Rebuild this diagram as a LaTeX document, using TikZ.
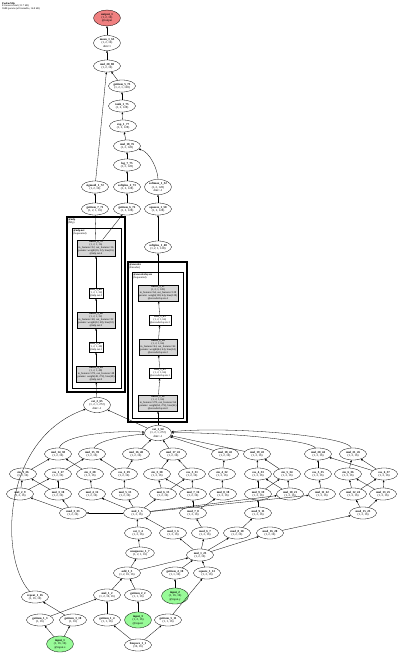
\documentclass[tikz,border=0pt]{standalone}
\usepackage{fontspec}
\setmainfont{Liberation Serif}
\usetikzlibrary{shapes.geometric,arrows.meta}
\definecolor{ingreen}{HTML}{98FB98}
\definecolor{outred}{HTML}{F08080}
\definecolor{prmgray}{HTML}{D6D6D6}

\begin{document}
\begin{tikzpicture}[
  x=1pt, y=-1pt,
  font=\fontsize{3}{3.3}\selectfont,
  >={Triangle[length=2pt,width=1.7pt]},
  op/.style    ={ellipse, draw, line width=0.3pt, fill=white, align=center,
                 inner xsep=0.6pt, inner ysep=1pt, minimum width=27pt, minimum height=12pt},
  opin/.style  ={op, fill=ingreen},
  opout/.style ={op, fill=outred},
  modbox/.style={rectangle, draw, line width=0.3pt, fill=white, align=center,
                 inner sep=1pt, font=\fontsize{2.7}{3}\selectfont},
  prmbox/.style={modbox, fill=prmgray},
  clus/.style  ={draw, line width=1.2pt},
  subclus/.style={draw, line width=0.7pt},
  clab/.style  ={anchor=north west, align=left, inner sep=0.6pt, font=\fontsize{2.7}{3}\selectfont},
  flow/.style  ={->, line width=0.3pt},
]
  \useasboundingbox (0,0) rectangle (400,656);

  % --- header ---
  \node[anchor=north west, align=left, inner sep=0pt, font=\fontsize{2.6}{2.9}\selectfont] (title) at (2,2)
       {\textbf{PosEncMlp}\\81 tensors total (31.7 kB)\\3688 params (all trainable, 14.8 kB)};

  % --- top chain ---
  \node[opout] (out1)  at (107,18)  {\textbf{output\_1}\\(1, 2, 16)\\@output};
  \node[op]    (mean)  at (107,43)  {\textbf{mean\_1\_63}\\(1, 2, 16)\\dim=1};
  \node[op]    (mul20) at (107,66)  {\textbf{mul\_20\_80}\\(1, 2, 16)};
  \node[op]    (gi5)   at (122,86)  {\textbf{getitem\_5\_73}\\(1, 2, 1, 128)};
  \node[op]    (tanh)  at (122,106) {\textbf{tanh\_1\_75}\\(1, 2, 128)};
  \node[op]    (expo)  at (123,126) {\textbf{exp\_1\_77}\\(1, 2, 128)};
  \node[op]    (mul18) at (127,146) {\textbf{mul\_18\_76}\\(1, 2, 128)};
  \node[op]    (logn)  at (127,165) {\textbf{log\_7\_75}\\(1, 2, 128)};
  \node[op]    (sigm)  at (95,187)  {\textbf{sigmoid\_1\_72}\\(1, 2, 16)};
  \node[op]    (spl2)  at (127,187) {\textbf{softplus\_2\_73}\\(1, 2, 128)};
  \node[op]    (smax)  at (158,187) {\textbf{softmax\_1\_52}\\(1, 2, 128)\\dim=-1};
  \node[op]    (gi7)   at (95,209)  {\textbf{getitem\_7\_71}\\(1, 2, 1, 16)};
  \node[op]    (gi6)   at (127,209) {\textbf{getitem\_6\_72}\\(1, 2, 128)};
  \node[op]    (sqz)   at (158,209) {\textbf{squeeze\_1\_50}\\(1, 2, 128)};
  \node[op]    (spl1)  at (158,247) {\textbf{softplus\_1\_48}\\(1, 2, 1, 128)};

  % --- left module ---
  \draw[clus]    (67,217) rectangle (125,392);
  \draw[subclus] (72,228) rectangle (121,388);
  \node[clab] (mlplab) at (67.5,217.5) {\textbf{@mlp}\\(Mlp)};
  \node[clab] (netlab) at (72.5,228.5) {\textbf{@mlp.net}\\(Sequential)};
  \node[prmbox] (lin6)  at (96,248) {\textbf{linear\_6\_70}\\(1, 2, 1, 16)\\in\_features=32, out\_features=16\\params: weight(16, 32), bias(16)\\@mlp.net.4};
  \node[modbox] (relu3) at (96,293) {\textbf{relu\_3\_68}\\(1, 2, 1, 32)\\@mlp.net.3};
  \node[prmbox] (lin5)  at (96,320) {\textbf{linear\_5\_66}\\(1, 2, 1, 32)\\in\_features=48, out\_features=32\\params: weight(32, 48), bias(32)\\@mlp.net.2};
  \node[modbox] (relu2) at (96,347) {\textbf{relu\_2\_67}\\(1, 2, 1, 48)\\@mlp.net.1};
  \node[prmbox] (lin4)  at (96,374) {\textbf{linear\_4\_64}\\(1, 2, 1, 48)\\in\_features=272, out\_features=48\\params: weight(48, 272), bias(48)\\@mlp.net.0};

  % --- right module ---
  \draw[clus]    (128,262) rectangle (187,422);
  \draw[subclus] (132,272) rectangle (183,418);
  \node[clab] (enclab) at (128.5,262.5) {\textbf{@encoder}\\(Encoder)};
  \node[clab] (laylab) at (132.5,272.5) {\textbf{@encoder.layers}\\(Sequential)};
  \node[prmbox] (rlin3) at (158,293) {\textbf{linear\_3\_47}\\(1, 2, 1, 128)\\in\_features=64, out\_features=128\\params: weight(128, 64), bias(128)\\@encoder.layers.4};
  \node[modbox] (rrelu2) at (160,320) {\textbf{relu\_1\_45}\\(1, 2, 1, 64)\\@encoder.layers.3};
  \node[prmbox] (rlin2) at (158,347) {\textbf{linear\_2\_44}\\(1, 2, 1, 64)\\in\_features=64, out\_features=64\\params: weight(64, 64), bias(64)\\@encoder.layers.2};
  \node[modbox] (rrelu1) at (160,373) {\textbf{relu\_1\_43}\\(1, 2, 1, 64)\\@encoder.layers.1};
  \node[prmbox] (rlin1) at (158,403) {\textbf{linear\_1\_42}\\(1, 2, 1, 64)\\in\_features=272, out\_features=64\\params: weight(64, 272), bias(64)\\@encoder.layers.0};

  % --- concat ---
  \node[op] (cat2) at (97,405)  {\textbf{cat\_2\_65}\\(1, 2, 1, 272)\\dim=-1};
  \node[op] (cat1) at (158,433) {\textbf{cat\_1\_54}\\(1, 2, 1, 272)\\dim=-1};

  % --- row 454 ---
  \node[op] (k0) at (58,454)  {\textbf{mul\_14\_38}\\(1, 2, 16)};
  \node[op] (k1) at (92,454)  {\textbf{mul\_15\_39}\\(1, 2, 16)};
  \node[op] (k2) at (136,454) {\textbf{mul\_16\_40}\\(1, 2, 16)};
  \node[op] (k3) at (173,454) {\textbf{mul\_17\_41}\\(1, 2, 16)};
  \node[op] (k4) at (225,454) {\textbf{mul\_18\_42}\\(1, 2, 16)};
  \node[op] (k5) at (257,454) {\textbf{mul\_19\_43}\\(1, 2, 16)};
  \node[op] (k6) at (318,454) {\textbf{mul\_20\_44}\\(1, 2, 16)};
  \node[op] (k7) at (353,454) {\textbf{mul\_21\_45}\\(1, 2, 16)};

  % --- row 474 ---
  \node[op] (m0)  at (23,474)  {\textbf{sin\_1\_26}\\(1, 2, 16)};
  \node[op] (m1)  at (58,474)  {\textbf{cos\_1\_27}\\(1, 2, 16)};
  \node[op] (m2)  at (90,474)  {\textbf{sin\_2\_28}\\(1, 2, 16)};
  \node[op] (m3)  at (124,474) {\textbf{cos\_2\_29}\\(1, 2, 16)};
  \node[op] (m4)  at (157,474) {\textbf{sin\_3\_30}\\(1, 2, 16)};
  \node[op] (m5)  at (192,474) {\textbf{cos\_3\_31}\\(1, 2, 16)};
  \node[op] (m6)  at (222,474) {\textbf{sin\_4\_32}\\(1, 2, 16)};
  \node[op] (m7)  at (258,474) {\textbf{cos\_4\_33}\\(1, 2, 16)};
  \node[op] (m8)  at (287,474) {\textbf{sin\_5\_34}\\(1, 2, 16)};
  \node[op] (m9)  at (318,474) {\textbf{cos\_5\_35}\\(1, 2, 16)};
  \node[op] (m10) at (348,474) {\textbf{sin\_6\_36}\\(1, 2, 16)};
  \node[op] (m11) at (384,474) {\textbf{cos\_6\_37}\\(1, 2, 16)};

  % --- row 494 ---
  \node[op] (n0)  at (20,494)  {\textbf{mul\_2\_9}\\(1, 2, 16)};
  \node[op] (n1)  at (58,494)  {\textbf{mul\_3\_10}\\(1, 2, 16)};
  \node[op] (n2)  at (92,494)  {\textbf{mul\_4\_12}\\(1, 2, 16)};
  \node[op] (n3)  at (125,494) {\textbf{mul\_5\_13}\\(1, 2, 16)};
  \node[op] (n4)  at (163,494) {\textbf{mul\_6\_15}\\(1, 2, 16)};
  \node[op] (n5)  at (193,494) {\textbf{mul\_7\_16}\\(1, 2, 16)};
  \node[op] (n6)  at (223,494) {\textbf{mul\_8\_18}\\(1, 2, 16)};
  \node[op] (n7)  at (258,494) {\textbf{mul\_9\_19}\\(1, 2, 16)};
  \node[op] (n8)  at (290,494) {\textbf{mul\_10\_21}\\(1, 2, 16)};
  \node[op] (n9)  at (322,494) {\textbf{mul\_11\_22}\\(1, 2, 16)};
  \node[op] (n10) at (353,494) {\textbf{mul\_12\_24}\\(1, 2, 16)};
  \node[op] (n11) at (383,494) {\textbf{mul\_13\_25}\\(1, 2, 16)};

  % --- rows 513 to 573 ---
  \node[op] (r1)  at (73,513)  {\textbf{mod\_3\_33}\\(1, 2, 16)};
  \node[op] (hub) at (137,513) {\textbf{mul\_1\_5}\\(1, 2, 16)};
  \node[op] (r3)  at (193,513) {\textbf{mod\_7\_8}\\(1, 2, 16)};
  \node[op] (r4)  at (258,513) {\textbf{mod\_9\_11}\\(1, 2, 16)};
  \node[op] (r5)  at (363,513) {\textbf{mod\_15\_23}\\(1, 2, 16)};
  \node[op] (s1)  at (138,533) {\textbf{cat\_1\_4}\\(1, 2, 16)};
  \node[op] (s2)  at (173,533) {\textbf{mod\_1\_6}\\(1, 2, 16)};
  \node[op] (s3)  at (205,533) {\textbf{mod\_6\_7}\\(1, 2, 16)};
  \node[op] (s4)  at (237,533) {\textbf{mod\_8\_10}\\(1, 2, 16)};
  \node[op] (s5)  at (270,533) {\textbf{mod\_16\_20}\\(1, 2, 16)};
  \node[op] (t1)  at (140,553) {\textbf{unsqueeze\_1\_7}\\(1, 2, 1, 16)};
  \node[op] (t2)  at (200,555) {\textbf{mul\_1\_25}\\(1, 2, 16)};
  \node[op] (u1)  at (127,573) {\textbf{add\_1\_3}\\(1, 2, 16, 16)};
  \node[op] (u2)  at (175,573) {\textbf{getitem\_4\_10}\\(1, 1, 16)};
  \node[op] (u3)  at (207,573) {\textbf{square\_1\_12}\\(1, 2, 16)};

  % --- bottom rows ---
  \node[op]   (v1)  at (35,597)  {\textbf{repeat\_1\_16}\\(1, 16, 16)};
  \node[op]   (v2)  at (107,595) {\textbf{mul\_1\_2}\\(1, 2, 16, 16)};
  \node[op]   (v3)  at (138,595) {\textbf{getitem\_2\_2}\\(1, 1, 16)};
  \node[opin] (in2) at (175,596) {\textbf{input\_2}\\(1, 16, 16)\\@input.y};
  \node[op]   (w1)  at (40,620)  {\textbf{getitem\_1\_3}\\(1, 16)};
  \node[op]   (w2)  at (73,620)  {\textbf{getitem\_3\_10}\\(1, 16)};
  \node[op]   (w3)  at (107,620) {\textbf{getitem\_1\_4}\\(1, 1, 16)};
  \node[opin] (in3) at (138,620) {\textbf{input\_3}\\(1, 2, 16)\\@input.t};
  \node[op]   (w5)  at (168,620) {\textbf{getitem\_5\_11}\\(1, 1, 16)};
  \node[opin] (in1) at (60,644)  {\textbf{input\_1}\\(1, 16, 16)\\@input.x};
  \node[op]   (lsp) at (138,645) {\textbf{linspace\_1\_1}\\(16, 16)};

  % --- edges: top ---
  \draw[flow] (mean) -- (out1);
  \draw[flow] (mul20) -- (mean);
  \draw[flow] (gi5) -- (mul20);
  \draw[flow] (sigm) -- (mul20);
  \draw[flow] (tanh) -- (gi5);
  \draw[flow] (expo) -- (tanh);
  \draw[flow] (mul18) -- (expo);
  \draw[flow] (logn) -- (mul18);
  \draw[flow] (smax) .. controls (158,170) and (150,152) .. (mul18);
  \draw[flow] (spl2) -- (logn);
  \draw[flow] (gi7) -- (sigm);
  \draw[flow] (gi6) -- (spl2);
  \draw[flow] (sqz) -- (smax);
  \draw[flow] (spl1) -- (sqz);
  \draw[flow] (lin6) -- (gi7);
  \draw[flow] (lin6) -- (gi6);
  \draw[flow] (rlin3) -- (spl1);

  % --- edges: modules ---
  \draw[flow] (relu3) -- (lin6);
  \draw[flow] (lin5) -- (relu3);
  \draw[flow] (relu2) -- (lin5);
  \draw[flow] (lin4) -- (relu2);
  \draw[flow] (cat2) -- (lin4);
  \draw[flow] (rrelu2) -- (rlin3);
  \draw[flow] (rlin2) -- (rrelu2);
  \draw[flow] (rrelu1) -- (rlin2);
  \draw[flow] (rlin1) -- (rrelu1);
  \draw[flow] (cat1) -- (rlin1);
  \draw[flow] (cat1) -- (cat2);
  \draw[flow] (v1) .. controls (0,560) and (0,440) .. (cat2);

  % --- edges: into cat ---
  \draw[flow] (k0) .. controls (62,436) and (110,430) .. (cat1);
  \draw[flow] (k1) .. controls (96,442) and (120,436) .. (cat1);
  \draw[flow] (k2) -- (cat1);
  \draw[flow] (k3) -- (cat1);
  \draw[flow] (k4) -- (cat1);
  \draw[flow] (k5) -- (cat1);
  \draw[flow] (k6) .. controls (312,440) and (220,432) .. (cat1);
  \draw[flow] (k7) .. controls (348,436) and (230,426) .. (cat1);

  % --- edges: 474 -> 454 ---
  \draw[flow] (m0) -- (k0);
  \draw[flow] (m2) -- (k0);
  \draw[flow] (m1) -- (k1);
  \draw[flow] (m3) -- (k1);
  \draw[flow] (m3) -- (k2);
  \draw[flow] (m4) -- (k3);
  \draw[flow] (m5) -- (k3);
  \draw[flow] (m6) -- (k4);
  \draw[flow] (m7) -- (k5);
  \draw[flow] (m8) -- (k5);
  \draw[flow] (m9) -- (k6);
  \draw[flow] (m11) -- (k6);
  \draw[flow] (m10) -- (k7);
  \draw[flow] (m11) -- (k7);

  % --- edges: 494 -> 474 ---
  \draw[flow] (n0) -- (m0);
  \draw[flow] (n1) -- (m1);
  \draw[flow] (n0) -- (m1);
  \draw[flow] (n1) -- (m0);
  \draw[flow] (n2) -- (m2);
  \draw[flow] (n3) -- (m3);
  \draw[flow] (n4) -- (m4);
  \draw[flow] (n5) -- (m5);
  \draw[flow] (n4) -- (m5);
  \draw[flow] (n5) -- (m4);
  \draw[flow] (n6) -- (m6);
  \draw[flow] (n7) -- (m7);
  \draw[flow] (n8) -- (m8);
  \draw[flow] (n7) -- (m8);
  \draw[flow] (n8) -- (m7);
  \draw[flow] (n9) -- (m9);
  \draw[flow] (n10) -- (m10);
  \draw[flow] (n11) -- (m11);
  \draw[flow] (n10) -- (m11);
  \draw[flow] (n11) -- (m10);

  % --- edges: 513 -> 494 ---
  \draw[flow] (hub) -- (r1);
  \draw[flow] (r1) -- (n0);
  \draw[flow] (r1) -- (n1);
  \draw[flow] (hub) -- (n2);
  \draw[flow] (hub) -- (n3);
  \draw[flow] (hub) -- (n4);
  \draw[flow] (hub) -- (n8);
  \draw[flow] (hub) -- (n9);
  \draw[flow] (r3) -- (n5);
  \draw[flow] (r3) -- (n6);
  \draw[flow] (r4) -- (n7);
  \draw[flow] (r5) -- (n10);
  \draw[flow] (r5) -- (n11);

  % --- edges: lower ---
  \draw[flow] (s1) -- (hub);
  \draw[flow] (s2) -- (hub);
  \draw[flow] (s3) -- (r3);
  \draw[flow] (s4) -- (r4);
  \draw[flow] (s5) -- (r5);
  \draw[flow] (t1) -- (s1);
  \draw[flow] (t2) -- (s2);
  \draw[flow] (t2) -- (s3);
  \draw[flow] (t2) -- (s4);
  \draw[flow] (t2) -- (s5);
  \draw[flow] (u1) -- (t1);
  \draw[flow] (u1) -- (t2);
  \draw[flow] (u2) -- (t2);
  \draw[flow] (u3) -- (t2);
  \draw[flow] (v2) -- (u1);
  \draw[flow] (v3) -- (u1);
  \draw[flow] (in2) -- (u2);
  \draw[flow] (w5) -- (u3);
  \draw[flow] (w1) -- (v2);
  \draw[flow] (w2) -- (v1);
  \draw[flow] (w3) -- (v2);
  \draw[flow] (in3) -- (v3);
  \draw[flow] (in1) -- (w1);
  \draw[flow] (in1) -- (w2);
  \draw[flow] (lsp) -- (w3);
  \draw[flow] (lsp) -- (w5);
\end{tikzpicture}
\end{document}
